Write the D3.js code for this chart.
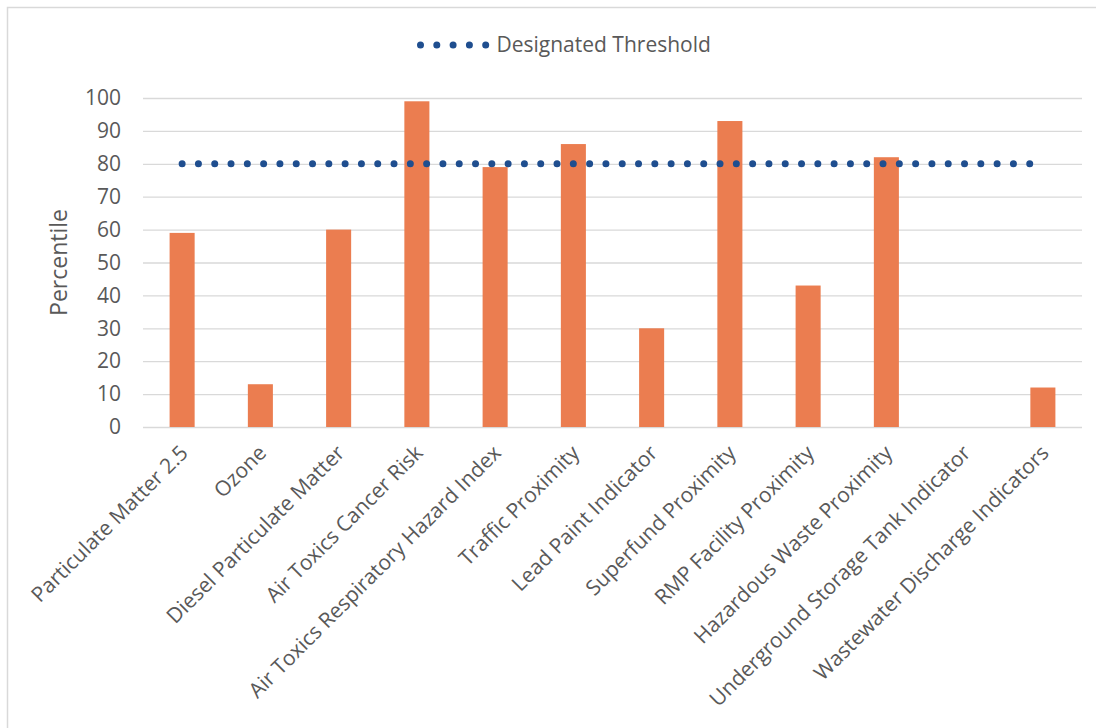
<!DOCTYPE html>
<html>
<head>
<meta charset="utf-8">
<script src="https://cdn.jsdelivr.net/npm/d3@7/dist/d3.min.js"></script>
<style>
  html, body { margin: 0; padding: 0; background: #fff; }
  svg { display: block; font-family: "Open Sans", "Noto Sans", sans-serif; }
</style>
</head>
<body>
<svg id="chart" width="1096" height="728"></svg>
<script>
// Environmental indicator percentiles
const categories = [
  "Particulate Matter 2.5",
  "Ozone",
  "Diesel Particulate Matter",
  "Air Toxics Cancer Risk",
  "Air Toxics Respiratory Hazard Index",
  "Traffic Proximity",
  "Lead Paint Indicator",
  "Superfund Proximity",
  "RMP Facility Proximity",
  "Hazardous Waste Proximity",
  "Underground Storage Tank Indicator",
  "Wastewater Discharge Indicators"
];
const percentiles = [59, 13, 60, 99, 79, 86, 30, 93, 43, 82, 0, 12];
const thresholdValue = 80;
const thresholdLabel = "Designated Threshold";
const yTicks = [0, 10, 20, 30, 40, 50, 60, 70, 80, 90, 100];
const yTitle = "Percentile";

const svg = d3.select("#chart");
const plot = { left: 143, right: 1082, top: 98, bottom: 427 };

// outer frame
svg.append("rect")
  .attr("x", 7.5).attr("y", 7.5)
  .attr("width", 1096).attr("height", 728)
  .attr("fill", "#fff")
  .attr("stroke", "#d9d9d9").attr("stroke-width", 1.5);

const x = d3.scaleBand()
  .domain(categories)
  .range([plot.left, plot.right])
  .paddingInner(0.68).paddingOuter(0.34);
const xc = d => x(d) + x.bandwidth() / 2;

const y = d3.scaleLinear().domain([0, 100]).range([plot.bottom, plot.top]);

// gridlines + y tick labels
const yAxis = d3.axisLeft(y).tickValues(yTicks).tickSize(-(plot.right - plot.left)).tickPadding(22);
const gy = svg.append("g").attr("transform", `translate(${plot.left},0)`).call(yAxis);
gy.select(".domain").remove();
gy.selectAll(".tick line").attr("stroke", "#d9d9d9").attr("stroke-width", 1.3);
gy.selectAll(".tick text")
  .attr("fill", "#595959").attr("font-size", 21)
  .attr("font-family", "'Open Sans', sans-serif");

// bars
svg.append("g").selectAll("rect")
  .data(categories)
  .join("rect")
  .attr("x", d => x(d))
  .attr("width", x.bandwidth())
  .attr("y", (d, i) => y(percentiles[i]))
  .attr("height", (d, i) => y(0) - y(percentiles[i]))
  .attr("fill", "#eb7d50");

// threshold line (round dots)
const thresholdLine = d3.line().x(d => xc(d)).y(() => y(thresholdValue));
svg.append("path")
  .datum([categories[0], categories[categories.length - 1]])
  .attr("d", thresholdLine)
  .attr("fill", "none")
  .attr("stroke", "#1f4e8f")
  .attr("stroke-width", 7)
  .attr("stroke-linecap", "round")
  .attr("stroke-dasharray", "0 16.3");

// x category labels, rotated
svg.append("g").selectAll("text")
  .data(categories)
  .join("text")
  .attr("transform", d => `translate(${xc(d) + 2},${plot.bottom + 22}) rotate(-45)`)
  .attr("text-anchor", "end")
  .attr("dy", "0.35em")
  .attr("fill", "#595959")
  .attr("font-size", 21)
  .text(d => d);

// y axis title
svg.append("text")
  .attr("transform", `translate(67,${(plot.top + plot.bottom) / 2}) rotate(-90)`)
  .attr("text-anchor", "middle")
  .attr("fill", "#595959")
  .attr("font-size", 23)
  .text(yTitle);

// legend
const legend = svg.append("g").attr("transform", "translate(420.5,45)");
legend.append("line")
  .attr("x1", 0).attr("x2", 66).attr("y1", 0).attr("y2", 0)
  .attr("stroke", "#1f4e8f").attr("stroke-width", 7)
  .attr("stroke-linecap", "round").attr("stroke-dasharray", "0 16.3");
legend.append("text")
  .attr("x", 76).attr("y", 0).attr("dy", "0.35em")
  .attr("fill", "#595959").attr("font-size", 21)
  .text(thresholdLabel);
</script>
</body>
</html>
